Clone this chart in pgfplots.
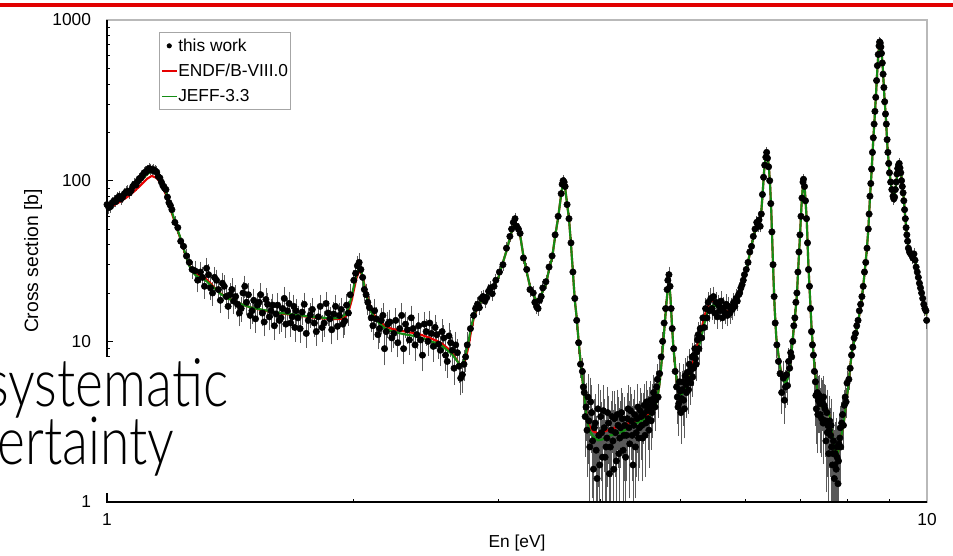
\documentclass[border=0pt]{standalone}
\usepackage{pgfplots}
\pgfplotsset{compat=1.18}
\usepackage{pgfplotstable}
\usepackage{graphicx}
\usepackage{fontspec}
\setmainfont{Liberation Sans}
\newfontfamily\thinfont{Lato Light}
\definecolor{endfred}{RGB}{230,0,0}
\definecolor{jeffgreen}{RGB}{20,140,20}
\definecolor{barred}{RGB}{225,0,0}
\definecolor{errgray}{RGB}{90,90,90}

\pgfplotstableread{
x y e
1.000 71 3
1.005 68 3
1.010 69 3
1.015 73 3
1.020 75 3
1.025 74 3
1.030 78 3
1.035 80 3
1.040 77 3
1.045 79 3
1.050 83 3.5
1.055 85 3.5
1.060 86 3.5
1.065 84 3.5
1.070 87 3.5
1.075 92 3.5
1.080 95 4
1.085 94 4
1.090 99 4
1.095 103 4
1.100 104 4
1.105 108 4
1.110 112 4.5
1.115 113 4.5
1.120 116 4.5
1.125 119 4.5
1.130 118 4.5
1.135 116 4.5
1.140 117 4.5
1.145 115 4.5
1.150 113 4.5
1.155 106 4
1.160 104 4
1.165 98 4
1.170 93 4
1.175 90 3.5
1.180 88 3.5
1.185 79 3
1.190 73 3
1.195 70 3
1.200 66 3
1.210 55 2.5
1.220 51 2.5
1.230 42 2
1.240 39 2
1.250 34 2
1.260 31 2.5
1.270 28 2.5
1.280 27.5 3
1.290 24 3
1.300 27 3
1.315 22 2.8
1.3225 28.5 3.2
1.330 26 3
1.3375 21.5 2.7
1.345 20 2.6
1.3525 25 2.9
1.360 24 2.8
1.375 18 2.4
1.3825 23 2.7
1.390 22 2.7
1.405 16.5 2.2
1.4125 19.5 2.5
1.420 21 2.6
1.435 19 2.4
1.4425 17 2.3
1.450 15 2.1
1.465 20 2.5
1.4725 22 2.6
1.480 17.5 2.3
1.495 14.5 2.1
1.510 18 2.4
1.525 16.8 2.3
1.540 19.5 2.5
1.555 13.2 2.0
1.570 17 2.3
1.585 15.5 2.2
1.600 12.5 1.9
1.615 16.8 2.3
1.630 14 2.0
1.645 18.5 2.4
1.660 15.5 2.1
1.675 13 1.9
1.690 16.5 2.2
1.70 15.5 2.1
1.72 12 1.8
1.74 17 2.3
1.76 13.5 1.9
1.78 15.8 2.1
1.80 11.5 1.7
1.82 16.5 2.2
1.84 13 1.9
1.86 15 2.0
1.88 11.8 1.8
1.90 16.5 2.2
1.92 14.5 2.0
1.94 12.8 1.9
1.96 16.8 2.2
1.98 19.5 2.4
2.00 24 2.6
2.01 26.5 2.8
2.02 29.5 3
2.03 31 3
2.04 28 2.9
2.05 25 2.7
2.06 21 2.5
2.07 19.5 2.4
2.08 17.5 2.3
2.10 14 2.0
2.12 15.5 2.1
2.14 11 1.7
2.16 13.5 1.9
2.18 9 1.6
2.20 12.8 1.9
2.225 10.5 1.6
2.250 13.5 1.9
2.275 12 1.8
2.300 9 1.5
2.325 11.8 1.8
2.350 14 2.0
2.375 9.5 1.6
2.400 12.5 1.8
2.425 8.2 1.4
2.450 11.5 1.7
2.475 13 1.9
2.500 9.3 1.5
2.525 11 1.7
2.550 8.8 1.5
2.575 10.5 1.6
2.600 7.5 1.3
2.625 9.8 1.5
2.650 6.8 1.2
2.675 8.5 1.4
2.700 5.9 1.1
2.725 7.2 1.3
2.750 9.5 1.4
2.775 12 1.5
2.800 14.5 1.6
2.815 16 1
2.83 17 1
2.845 16.2 1
2.86 18.5 1.1
2.875 19 1.1
2.89 17.8 1.1
2.905 18.7 1.1
2.92 20.5 1.2
2.935 21.5 1.2
2.95 19.8 1.2
2.965 22 1.2
2.98 24 1.3
3.01 27 1.4
3.04 30 1.5
3.07 38 1.8
3.10 45 2
3.115 50 2.1
3.13 55 2.3
3.145 58 2.4
3.16 52 2.2
3.175 50 2.1
3.19 47 2
3.22 33 1.6
3.25 28 1.4
3.28 21 1.2
3.31 20 1.2
3.325 17.5 1.1
3.34 16.5 1.1
3.355 16 1
3.37 18 1.1
3.385 19 1.1
3.40 21.5 1.2
3.43 23.5 1.3
3.46 29 1.4
3.49 34 1.6
3.52 46 2
3.55 60 2.4
3.58 83 3
3.59 95 3.3
3.60 100 3.5
3.61 98 3.4
3.62 92 3.2
3.64 71 2.7
3.66 58 2.3
3.68 41 1.8
3.70 27 1.4
3.72 18.5 1.3
3.74 13.5 1.2
3.76 9.8 1.1
3.78 7.2 1.0
3.80 6.5 1.0
3.82 4.8 1.3
3.84 3.9 1.4
3.86 4.5 1.5
3.88 2.2 1.2
3.90 3.6 1.5
3.92 1.6 1.1
3.94 3.1 1.4
3.96 1.4 1.0
3.98 2.6 1.3
4.00 3.4 1.4
4.02 1.9 1.2
4.04 2.9 1.3
4.06 2.2 1.3
4.08 3.6 1.4
4.10 1.5 1.1
4.12 2.8 1.3
4.14 2.4 1.2
4.16 3.3 1.4
4.18 1.8 1.2
4.20 3.0 1.3
4.22 2.5 1.2
4.24 3.6 1.3
4.26 2.1 1.2
4.28 3.0 1.3
4.30 2.6 1.2
4.32 3.8 1.3
4.34 2.3 1.2
4.36 3.2 1.3
4.38 1.7 1.1
4.40 3.5 1.3
4.42 2.7 1.2
4.44 3.9 1.3
4.46 2.9 1.2
4.48 3.4 1.2
4.50 2.5 1.1
4.52 4.0 1.2
4.54 3.1 1.1
4.56 3.7 1.1
4.58 2.8 1.1
4.60 4.3 1.1
4.62 3.6 1.0
4.64 4.8 1.1
4.66 3.9 1.0
4.68 5.2 1.1
4.70 4.5 1.0
4.72 6.3 1.0
4.74 8 1.0
4.76 10 1.0
4.78 13 1.1
4.80 16 1.2
4.82 21 1.5
4.83 24 1.8
4.845 26 2
4.86 22 1.7
4.875 16 1.3
4.89 12 1.3
4.91 9 1.2
4.93 6.5 1.2
4.95 5.2 1.3
4.97 3.9 1.2
4.99 5.6 1.4
5.01 3.6 1.2
5.03 5.0 1.3
5.05 4.3 1.2
5.07 6.1 1.4
5.09 4.8 1.3
5.11 5.8 1.3
5.13 7.2 1.4
5.15 5.5 1.3
5.17 8 1.4
5.19 6.8 1.3
5.21 9 1.5
5.23 7.2 1.3
5.25 10.2 1.6
5.27 9 1.5
5.29 12 1.7
5.31 10.5 1.5
5.33 14 1.8
5.35 12.2 1.6
5.37 16 1.9
5.39 14 1.7
5.41 17.5 1.9
5.43 15.5 1.8
5.45 18.5 2
5.47 16 1.8
5.49 19 2
5.51 15 1.7
5.53 17.5 1.9
5.55 14.2 1.7
5.57 16.8 1.8
5.59 15.5 1.7
5.61 17.8 1.9
5.63 14 1.6
5.65 16.2 1.8
5.67 15 1.7
5.69 17 1.8
5.71 14.5 1.6
5.73 16.5 1.7
5.75 15 1.6
5.77 16.2 1.7
5.79 15.8 1.6
5.81 17.5 1.7
5.83 16.5 1.6
5.85 18.5 1.7
5.87 17.8 1.6
5.89 19.5 1.7
5.91 20 1.7
5.93 21.5 1.7
5.95 22.5 1.7
5.97 24 1.7
5.99 26 1.8
6.02 28 1.4
6.05 31 1.5
6.08 36 1.7
6.11 39 1.8
6.14 45 2
6.17 50 2.2
6.20 55 2.4
6.22 52 2.3
6.24 57 2.4
6.26 52 2.3
6.28 62 2.6
6.30 82 3.2
6.32 105 4
6.34 125 4.5
6.36 140 5
6.375 150 5.5
6.39 138 5
6.41 122 4.5
6.43 100 4
6.45 72 3
6.47 48 2.2
6.49 30 1.6
6.51 19 1.3
6.53 13 1.2
6.56 9.5 1.3
6.59 7.5 1.2
6.62 6.3 1.2
6.65 4.8 1.1
6.68 5.9 1.3
6.70 4.3 1.1
6.72 5.2 1.2
6.74 6.2 1.2
6.76 5.3 1.1
6.78 7.5 1.2
6.80 6.8 1.1
6.82 8.5 1.2
6.84 8 1.1
6.86 10 1.2
6.88 12.5 1.2
6.90 14 1.2
6.92 17.5 1.3
6.94 20 1.4
6.96 27 1.6
6.98 36 1.8
7.00 46 2.1
7.02 60 2.6
7.04 78 3
7.06 98 3.6
7.07 102 3.7
7.09 92 3.4
7.11 75 2.9
7.13 58 2.4
7.15 41 1.9
7.17 28 1.5
7.19 22 1.4
7.21 16 1.3
7.23 11.5 1.3
7.25 9.5 1.3
7.27 8.2 1.4
7.29 6.5 1.5
7.31 5.6 1.5
7.33 3.8 1.4
7.35 4.8 1.5
7.37 4.3 1.5
7.39 4.6 1.3
7.41 3.5 1.4
7.43 4.4 1.3
7.45 4.2 1.3
7.47 3.1 1.3
7.49 4.0 1.2
7.51 3.8 1.3
7.53 2.4 1.2
7.55 3.6 1.2
7.57 3.0 1.3
7.59 2.0 1.1
7.61 3.2 1.2
7.63 2.6 1.1
7.65 2.2 1.2
7.67 1.7 1.0
7.69 2.4 1.1
7.71 1.4 0.9
7.73 2.0 1.0
7.75 1.6 1.0
7.77 1.9 0.9
7.79 1.3 0.8
7.81 2.3 0.9
7.83 2.5 0.9
7.85 2.2 0.8
7.87 3.1 0.9
7.89 3.5 0.9
7.91 3.0 0.8
7.93 4.0 0.8
7.95 4.5 0.8
7.97 4.2 0.7
7.99 5.5 0.8
8.03 5.8 0.6
8.06 6.8 0.6
8.09 8.2 0.7
8.12 9.2 0.8
8.15 10.5 0.8
8.18 11.2 0.9
8.21 12.5 0.9
8.24 13.5 1.0
8.27 15.5 1.0
8.30 17 1.1
8.33 19 1.1
8.36 22 1.2
8.39 27 1.4
8.42 31 1.5
8.45 38 1.7
8.48 50 2.1
8.50 62 2.5
8.52 80 3
8.54 96 3.5
8.56 118 4.2
8.58 150 5.2
8.60 185 6.2
8.62 225 7.5
8.64 270 9
8.66 330 11
8.68 420 14
8.70 520 17
8.72 610 20
8.74 690 22
8.755 730 23
8.77 720 23
8.785 680 22
8.80 620 20
8.82 540 18
8.84 460 15
8.86 380 13
8.88 310 10
8.90 260 9
8.92 225 7.5
8.94 180 6
8.96 150 5
8.98 128 4.5
9.00 112 4
9.03 98 3.6
9.06 88 3.3
9.09 80 3
9.11 77 3
9.13 79 3
9.15 88 3.3
9.17 98 3.6
9.19 110 4
9.21 119 4.2
9.23 125 4.4
9.25 128 4.5
9.27 120 4.3
9.29 112 4
9.31 100 3.7
9.33 92 3.4
9.35 84 3.1
9.37 75 2.9
9.39 66 2.6
9.41 58 2.3
9.43 51 2.1
9.45 46 1.9
9.47 42 1.8
9.49 38 1.7
9.52 36 1.7
9.55 35 1.6
9.58 34.5 1.6
9.61 33 1.6
9.64 35 1.6
9.67 32 1.5
9.70 29 1.4
9.73 27 1.4
9.76 25 1.3
9.79 23 1.3
9.82 21.5 1.2
9.85 20 1.2
9.88 18.5 1.1
9.91 17 1.1
9.94 16 1.1
9.97 15.5 1.0
9.99 13.5 1.0
1.3075 25 2.9
1.3675 21 2.6
1.3975 19 2.4
1.4275 17.8 2.3
1.4575 16 2.2
1.4875 19.5 2.5
1.5025 15.5 2.1
1.5175 13.8 2.0
1.5325 17.5 2.3
1.5475 15 2.1
1.5625 18.2 2.4
1.5775 14.2 2.0
1.5925 16.8 2.2
1.6075 14.8 2.0
1.6225 13.5 1.9
1.6375 16 2.2
1.6525 12.8 1.9
1.6675 17.2 2.3
1.6825 14.2 2.0
1.695 12.2 1.8
1.71 14 2.0
1.73 15.2 2.1
1.75 11.2 1.7
1.77 14.6 2.0
1.79 13 1.9
1.81 14.2 2.0
1.83 12.2 1.8
1.85 17.2 2.3
1.87 13.8 1.9
1.89 14.8 2.0
1.91 12.4 1.8
1.93 15.8 2.1
1.95 13.4 1.9
1.97 15 2.0
2.09 16.2 2.2
2.11 12.5 1.8
2.13 13.8 1.9
2.15 12 1.8
2.17 14.5 2.0
2.19 11.5 1.7
2.2125 13.2 1.9
2.2375 11.2 1.7
2.2625 9.8 1.5
2.2875 14.5 2.0
2.3125 12.8 1.8
2.3375 10.2 1.6
2.3625 12 1.8
2.3875 11 1.7
2.4125 10.2 1.6
2.4375 12.8 1.8
2.4625 10 1.5
2.4875 11.2 1.7
2.5125 12.2 1.8
2.5375 9.6 1.5
2.5625 11.5 1.7
2.5875 8.2 1.4
2.6125 10.8 1.6
2.6375 8.8 1.4
2.6625 9.5 1.5
2.6875 7 1.3
2.7125 6.2 1.2
2.7375 8 1.3
3.81 5.2 1.3
3.83 3.4 1.4
3.85 2.8 1.3
3.87 3.2 1.4
3.89 4.2 1.5
3.91 2.4 1.3
3.93 2.9 1.3
3.95 2.1 1.2
3.97 3.8 1.4
3.99 1.7 1.1
4.01 2.7 1.3
4.03 3.7 1.4
4.05 1.9 1.2
4.07 2.5 1.2
4.09 3.1 1.3
4.11 2.2 1.2
4.13 3.4 1.3
4.15 1.6 1.1
4.17 2.7 1.2
4.19 3.5 1.3
4.21 2.0 1.2
4.23 2.9 1.2
4.25 3.3 1.3
4.27 2.6 1.2
4.29 1.9 1.1
4.31 3.3 1.3
4.33 2.9 1.2
4.35 3.7 1.3
4.37 2.6 1.2
4.39 3.0 1.2
4.41 2.2 1.1
4.43 3.3 1.2
4.45 2.5 1.1
4.47 3.7 1.2
4.49 3.0 1.1
4.51 3.5 1.1
4.53 2.6 1.1
4.55 4.2 1.2
4.57 3.3 1.1
4.59 3.9 1.1
4.61 3.2 1.0
4.63 4.1 1.1
4.65 4.5 1.1
4.67 4.3 1.0
4.69 5.8 1.1
4.96 4.5 1.3
4.98 4.1 1.2
5.00 4.9 1.3
5.02 4.4 1.2
5.04 5.6 1.3
5.06 3.8 1.2
5.08 5.4 1.3
5.10 6.4 1.4
5.12 5.0 1.3
5.14 6.5 1.3
5.16 6.8 1.3
5.18 6.0 1.3
5.20 8.2 1.4
5.22 7.8 1.4
5.24 8.6 1.5
5.26 11 1.6
5.28 10.5 1.6
7.32 4.6 1.5
7.36 3.5 1.4
7.40 4.1 1.3
7.44 3.3 1.3
7.48 4.5 1.3
7.52 3.2 1.2
7.56 2.7 1.2
7.60 2.8 1.1
7.64 3.0 1.2
7.68 2.0 1.0
7.72 1.7 1.0
7.76 2.2 1.0
7.80 1.8 0.9
7.84 2.9 0.9
}\meas

\begin{document}
\begin{tikzpicture}
\useasboundingbox (0,0) rectangle (714.75pt,417pt);
\draw[barred, line width=3pt] (0,413pt) -- (714.75pt,413pt);
\begin{axis}[
  name=ax,
  at={(80.25pt,40.5pt)}, anchor=south west,
  width=615pt, height=361.5pt, scale only axis,
  xmode=log, ymode=log,
  xmin=1, xmax=10, ymin=1, ymax=1000,
  xtick={1,10}, xticklabels={1,10},
  ytick={1,10,100,1000}, yticklabels={1,10,100,1000},
  minor xtick={2,3,4,5,6,7,8,9},
  minor ytick={2,3,4,5,6,7,8,9,20,30,40,50,60,70,80,90,200,300,400,500,600,700,800,900},
  xtick pos=left, ytick pos=left,
  tick align=inside,
  major tick length=4.5pt, minor tick length=2.6pt,
  tick style={black, line width=0.6pt},
  axis line style={draw=gray!55, line width=0.8pt},
  tick label style={font=\fontsize{13}{15}\selectfont},
  yticklabel style={xshift=-8.5pt},
  xticklabel style={yshift=-5pt},
  xlabel={En [eV]},
  xlabel style={at={(rel axis cs:0.5,-0.085)}, anchor=center, font=\fontsize{13}{15}\selectfont},
  ylabel={Cross section [b]},
  ylabel style={at={(rel axis cs:-0.09,0.5)}, anchor=center, font=\fontsize{14.5}{16}\selectfont},
  legend style={at={(0.063,0.975)}, anchor=north west, draw=gray!70, line width=0.6pt,
    inner xsep=1.5pt, inner ysep=4pt, row sep=7pt,
    font=\fontsize{13}{15}\selectfont, nodes={inner sep=0.6pt}},
  legend cell align=left,
]
\addplot[only marks, mark=*, mark size=2.4pt, black,
  legend image code/.code={\path[draw=none,fill=none] (0pt,0pt) -- (11pt,0pt); \fill[black] (5.5pt,0pt) circle (1.6pt);},
  error bars/.cd, y dir=both, y explicit,
  error bar style={draw=errgray, line width=0.55pt},
  error mark=-,
  error mark options={draw=errgray, mark size=2.2pt, line width=0.55pt}]
  table[x=x, y=y, y error=e] {\meas};
\addlegendentry{this work}
\addplot[endfred, line width=1.6pt, line join=round,
  legend image code/.code={\draw[draw=endfred, line width=1.3pt] (0pt,0pt) -- (11pt,0pt);}]
coordinates {
(1.00,67.5) (1.02,70.5) (1.04,74.5) (1.06,79.5) (1.08,86) (1.10,94) (1.12,103) (1.134,107) (1.15,104) (1.16,98) (1.17,91) (1.18,82) (1.19,72) (1.20,62.5) (1.21,55) (1.22,48.5) (1.23,43) (1.24,37.5) (1.25,33) (1.26,29.8) (1.27,27.9) (1.28,26.6) (1.29,25.9) (1.30,25.5) (1.315,25) (1.33,23.6) (1.35,21.8) (1.375,19.9) (1.40,18.7) (1.43,17.8) (1.46,17) (1.50,16.2) (1.55,15.6) (1.60,15.1) (1.65,14.8) (1.70,14.5) (1.75,14.25) (1.80,14.0) (1.85,13.85) (1.90,13.75) (1.93,13.8) (1.95,14.1) (1.97,15.2) (1.99,18.3) (2.00,20.8) (2.015,24.8) (2.03,27.4) (2.045,26.2) (2.06,22.6) (2.08,18.6) (2.10,15.8) (2.12,14.5) (2.15,13.3) (2.18,12.5) (2.22,12.0) (2.27,11.7) (2.32,11.45) (2.37,11.25) (2.42,10.95) (2.47,10.55) (2.52,10.1) (2.56,9.7) (2.60,9.1) (2.63,8.6) (2.66,7.9) (2.69,7.2) (2.705,7.05) (2.72,7.2) (2.74,7.9) (2.76,9.3) (2.78,11.6) (2.80,13.8) (2.83,16.3) (2.86,17.8) (2.90,19.2) (2.95,21.2) (3.00,24.8) (3.04,31) (3.07,36.5) (3.10,44) (3.13,52) (3.145,55) (3.16,53) (3.19,46) (3.22,34) (3.25,27) (3.28,22) (3.31,19.5) (3.34,18) (3.37,18.5) (3.40,20.5) (3.43,22.5) (3.46,28) (3.49,33) (3.52,45) (3.55,59) (3.58,82) (3.60,98) (3.62,90) (3.64,72) (3.66,58) (3.68,40) (3.70,27) (3.72,18) (3.74,14) (3.76,10) (3.78,7.5) (3.80,5.8) (3.82,4.6) (3.85,3.3) (3.88,2.95) (3.92,2.75) (3.97,2.68) (4.02,2.72) (4.08,2.8) (4.16,2.9) (4.24,2.98) (4.32,3.08) (4.40,3.2) (4.48,3.32) (4.56,3.45) (4.62,3.65) (4.66,3.92) (4.69,4.4) (4.72,5.5) (4.75,7.8) (4.78,11.5) (4.81,17) (4.83,21.5) (4.847,23) (4.865,19) (4.885,13) (4.905,9.3) (4.93,7) (4.96,5.3) (4.985,4.65) (5.01,4.65) (5.05,4.9) (5.10,5.5) (5.15,6.5) (5.20,7.9) (5.25,9.5) (5.30,11.5) (5.35,14.2) (5.40,16.5) (5.45,17.8) (5.49,18) (5.55,17.2) (5.60,16.3) (5.65,15.7) (5.72,15.3) (5.78,15.3) (5.82,16.5) (5.86,18) (5.90,19.3) (5.94,21) (5.98,24.5) (6.02,28) (6.06,32.5) (6.10,38) (6.14,44) (6.18,50) (6.21,53) (6.24,54) (6.26,56) (6.28,64) (6.30,80) (6.33,115) (6.355,138) (6.375,145) (6.40,135) (6.42,115) (6.44,90) (6.46,62) (6.48,38) (6.50,24) (6.52,16) (6.55,10.5) (6.59,8.2) (6.63,6.7) (6.68,5.9) (6.72,5.8) (6.76,6.0) (6.80,6.9) (6.84,8.8) (6.88,12) (6.91,15) (6.94,19.5) (6.97,30) (7.00,45) (7.03,70) (7.066,101) (7.10,85) (7.135,57) (7.168,30) (7.20,19) (7.235,11.5) (7.27,8.5) (7.30,6.6) (7.34,5.2) (7.38,4.4) (7.44,3.92) (7.50,3.85) (7.56,3.75) (7.60,3.5) (7.64,3.0) (7.69,2.4) (7.73,2.05) (7.76,1.9) (7.80,2.1) (7.85,2.5) (7.91,3.0) (7.96,3.9) (8.02,5.3) (8.06,7) (8.10,8.6) (8.15,10) (8.21,11.8) (8.25,13.6) (8.30,16.5) (8.36,21.9) (8.40,28) (8.44,36) (8.48,49) (8.52,78) (8.56,115) (8.60,180) (8.63,238) (8.67,360) (8.70,500) (8.73,650) (8.763,750) (8.79,690) (8.83,520) (8.87,340) (8.913,238) (8.95,160) (8.995,116) (9.05,90) (9.116,76) (9.17,95) (9.21,118) (9.25,127) (9.30,110) (9.357,83) (9.40,62) (9.445,47) (9.49,39) (9.55,35) (9.62,33.6) (9.67,32.5) (9.735,26.5) (9.80,22.9) (9.87,19) (9.93,16.5) (10.0,14.5)
};
\addlegendentry{ENDF/B-VIII.0}
\addplot[jeffgreen, line width=1.6pt, line join=round,
  legend image code/.code={\draw[draw=jeffgreen, line width=1.3pt] (0pt,0pt) -- (11pt,0pt);}]
coordinates {
(1.00,70) (1.02,73.5) (1.04,78) (1.06,84) (1.08,91) (1.10,100) (1.12,110) (1.134,115) (1.15,110) (1.16,103) (1.17,95) (1.18,85) (1.19,74) (1.20,64) (1.21,56) (1.22,49) (1.23,43.5) (1.24,38) (1.25,33) (1.26,29.5) (1.27,27.5) (1.28,26) (1.29,25.3) (1.30,24.9) (1.315,24.3) (1.33,23) (1.35,21.6) (1.375,19.8) (1.40,18.6) (1.43,17.8) (1.46,17) (1.50,16.2) (1.55,15.7) (1.60,15.2) (1.65,14.9) (1.70,14.6) (1.75,14.35) (1.80,14.1) (1.85,14.0) (1.90,13.9) (1.93,14.1) (1.95,14.6) (1.97,16) (1.99,19.5) (2.00,22) (2.015,26) (2.03,28.5) (2.045,26.5) (2.06,22) (2.08,18) (2.10,15.2) (2.12,14) (2.15,12.9) (2.18,12.1) (2.22,11.6) (2.27,11.25) (2.32,11) (2.37,10.8) (2.42,10.5) (2.47,10.1) (2.52,9.75) (2.56,9.4) (2.60,8.8) (2.63,8.4) (2.66,7.8) (2.69,7.2) (2.705,7.1) (2.72,7.4) (2.74,8.4) (2.76,10) (2.78,12.3) (2.80,14.2) (2.83,16.5) (2.86,17.8) (2.90,19.2) (2.95,21.2) (3.00,24.8) (3.04,31) (3.07,36.5) (3.10,44) (3.13,52) (3.145,55) (3.16,53) (3.19,46) (3.22,34) (3.25,27) (3.28,22) (3.31,19.5) (3.34,18) (3.37,18.5) (3.40,20.5) (3.43,22.5) (3.46,28) (3.49,33) (3.52,45) (3.55,59) (3.58,82) (3.60,98) (3.62,90) (3.64,72) (3.66,58) (3.68,40) (3.70,27) (3.72,18) (3.74,14) (3.76,10) (3.78,7.5) (3.80,5.8) (3.82,4.6) (3.85,3.2) (3.88,2.75) (3.92,2.55) (3.97,2.42) (4.02,2.45) (4.08,2.56) (4.16,2.65) (4.24,2.72) (4.32,2.87) (4.40,3.05) (4.48,3.2) (4.56,3.35) (4.62,3.6) (4.66,3.9) (4.69,4.4) (4.72,5.5) (4.75,7.8) (4.78,11.5) (4.81,17) (4.83,21.5) (4.847,23) (4.865,19) (4.885,13) (4.905,9.3) (4.93,7) (4.96,5.3) (4.985,4.65) (5.01,4.6) (5.05,4.85) (5.10,5.35) (5.15,6.2) (5.20,7.3) (5.25,8.6) (5.30,10.3) (5.35,12.8) (5.40,15.2) (5.45,16.5) (5.49,16.8) (5.55,16.4) (5.60,15.8) (5.65,15.4) (5.72,15.2) (5.78,15.3) (5.82,16.5) (5.86,18) (5.90,19.3) (5.94,21) (5.98,24.5) (6.02,28) (6.06,32.5) (6.10,38) (6.14,44) (6.18,50) (6.21,53) (6.24,54) (6.26,56) (6.28,64) (6.30,80) (6.33,115) (6.355,138) (6.375,145) (6.40,135) (6.42,115) (6.44,90) (6.46,62) (6.48,38) (6.50,24) (6.52,16) (6.55,10.5) (6.59,8.2) (6.63,6.6) (6.68,5.7) (6.72,5.5) (6.76,5.8) (6.80,6.9) (6.84,8.8) (6.88,12) (6.91,15) (6.94,19.5) (6.97,30) (7.00,45) (7.03,70) (7.066,101) (7.10,85) (7.135,57) (7.168,30) (7.20,19) (7.235,11.5) (7.27,8.5) (7.30,6.6) (7.34,5.2) (7.38,4.4) (7.44,3.92) (7.50,3.85) (7.56,3.75) (7.60,3.5) (7.64,3.0) (7.69,2.4) (7.73,2.05) (7.76,1.9) (7.80,2.1) (7.85,2.5) (7.91,3.0) (7.96,3.9) (8.02,5.3) (8.06,7) (8.10,8.6) (8.15,10) (8.21,11.8) (8.25,13.6) (8.30,16.5) (8.36,21.9) (8.40,28) (8.44,36) (8.48,49) (8.52,78) (8.56,115) (8.60,180) (8.63,238) (8.67,360) (8.70,500) (8.73,640) (8.763,731) (8.79,680) (8.83,520) (8.87,340) (8.913,238) (8.95,160) (8.995,116) (9.05,90) (9.116,76) (9.17,95) (9.21,118) (9.25,127) (9.30,110) (9.357,83) (9.40,62) (9.445,47) (9.49,39) (9.55,35) (9.62,33.6) (9.67,32.5) (9.735,26.5) (9.80,22.9) (9.87,19) (9.93,16.5) (10.0,14.5)
};
\addlegendentry{JEFF-3.3}
\end{axis}
\draw[black, line width=0.8pt] (ax.north west) -- (ax.south west) -- (ax.south east);
\fill[white] (0pt,47.5pt) rectangle (183.75pt,149.25pt);
\node[anchor=base west, inner sep=0pt, font=\thinfont\fontsize{50}{56}\selectfont] at (-10.5pt,112pt) {\scalebox{0.8}[1]{systematic}};
\node[anchor=base west, inner sep=0pt, font=\thinfont\fontsize{50}{56}\selectfont] at (-2pt,68.25pt) {\scalebox{0.8}[1]{ertainty}};
\end{tikzpicture}
\end{document}
